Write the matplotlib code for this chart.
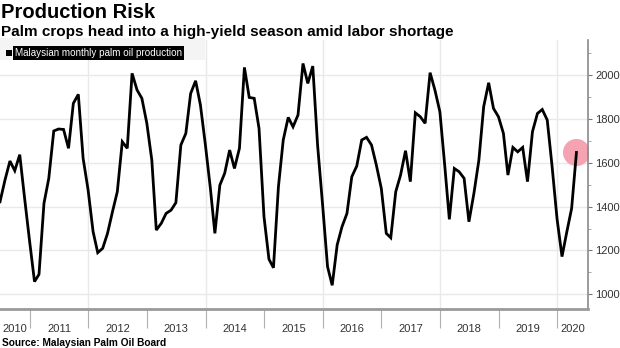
import numpy as np
import pandas as pd
import matplotlib
matplotlib.use("Agg")
import matplotlib.pyplot as plt
import matplotlib.dates as mdates
from matplotlib.patches import Rectangle
from matplotlib.ticker import MultipleLocator, FixedLocator, NullFormatter

plt.rcParams['font.family'] = ['Liberation Sans', 'DejaVu Sans']

# Malaysian monthly palm oil production ('000 tonnes), Jun 2010 - Apr 2020
prod_2010 = [1422, 1521, 1608, 1564, 1637, 1440, 1245]
prod_2011 = [1058, 1091, 1415, 1529, 1745, 1754, 1752, 1666, 1871, 1912, 1620, 1476]
prod_2012 = [1286, 1190, 1210, 1278, 1377, 1468, 1696, 1666, 2008, 1932, 1894, 1780]
prod_2013 = [1612, 1293, 1324, 1369, 1384, 1418, 1681, 1734, 1916, 1974, 1863, 1681]
prod_2014 = [1483, 1278, 1498, 1552, 1658, 1574, 1666, 2035, 1898, 1894, 1757, 1354]
prod_2015 = [1160, 1121, 1491, 1704, 1807, 1764, 1818, 2053, 1962, 2041, 1680, 1410]
prod_2016 = [1126, 1041, 1225, 1308, 1369, 1536, 1585, 1704, 1716, 1681, 1590, 1483]
prod_2017 = [1278, 1258, 1468, 1544, 1655, 1514, 1828, 1810, 1780, 2011, 1932, 1833]
prod_2018 = [1582, 1342, 1574, 1559, 1529, 1331, 1460, 1612, 1856, 1965, 1848, 1810]
prod_2019 = [1734, 1544, 1670, 1650, 1670, 1514, 1742, 1825, 1843, 1795, 1585, 1345]
prod_2020 = [1172, 1281, 1392, 1647]

production = (prod_2010 + prod_2011 + prod_2012 + prod_2013 + prod_2014 + prod_2015
              + prod_2016 + prod_2017 + prod_2018 + prod_2019 + prod_2020)
months = pd.period_range('2010-06', '2020-04', freq='M').to_timestamp(how='end').normalize()
years = list(range(2010, 2021))

title = "Production Risk"
subtitle = "Palm crops head into a high-yield season amid labor shortage"
legend_label = "Malaysian monthly palm oil production"
source = "Source: Malaysian Palm Oil Board"

fig = plt.figure(figsize=(6.2, 3.48), dpi=100)
W, H = 620.0, 348.0
ax = fig.add_axes([0, 1 - 309 / H, 588 / W, (309 - 40) / H])

ax.plot(months, production, color='black', lw=2.0, zorder=3, solid_joinstyle='miter')
ax.scatter([months[-1]], [production[-1]], s=380, color='#f5a3b3', zorder=2, linewidths=0)

x0 = months[0]
x1 = months[0] + pd.Timedelta(days=3664)
ax.set_xlim(x0, x1)
ax.set_ylim(933, 2160)

# grid
for v in range(1000, 2001, 200):
    ax.axhline(v, color='#e9e9e9', lw=1, zorder=0)
for y in range(2012, 2021, 2):
    ax.axvline(pd.Timestamp(f'{y}-01-01'), color='#e9e9e9', lw=1, zorder=0)

# spines
for s in ['top', 'left']:
    ax.spines[s].set_visible(False)
ax.spines['bottom'].set_color('#9a9a9a')
ax.spines['bottom'].set_linewidth(2)
ax.spines['right'].set_color('#8a8a8a')
ax.spines['right'].set_linewidth(1.2)

# y axis on the right
ax.yaxis.tick_right()
ax.yaxis.set_major_locator(MultipleLocator(200))
ax.yaxis.set_minor_locator(MultipleLocator(100))
ax.tick_params(axis='y', which='major', length=3, width=0.8, color='#777777',
               labelsize=8, labelcolor='#333333', pad=2)
ax.tick_params(axis='y', which='minor', length=2, width=0.6, color='#999999')
ax.set_yticks([1000, 1200, 1400, 1600, 1800, 2000])

# x axis: separators at year starts, labels at centre of visible year span
lo, hi = mdates.date2num(x0), mdates.date2num(x1)
bounds = [mdates.date2num(pd.Timestamp(f'{y}-01-01')) for y in range(2011, 2021)]
centers = []
for y in years:
    a = max(lo, mdates.date2num(pd.Timestamp(f'{y}-01-01')))
    b = min(hi, mdates.date2num(pd.Timestamp(f'{y + 1}-01-01')))
    centers.append((a + b) / 2)
ax.xaxis.set_major_locator(FixedLocator(bounds))
ax.xaxis.set_major_formatter(NullFormatter())
ax.xaxis.set_minor_locator(FixedLocator(centers))
ax.set_xticklabels([str(y) for y in years], minor=True)
ax.tick_params(axis='x', which='major', length=14, width=0.8, color='#b0b0b0')
ax.tick_params(axis='x', which='minor', length=0, labelsize=8, labelcolor='#333333', pad=11)

# titles
fig.text(1 / W, 1 - 13 / H, title, fontsize=14.5, fontweight='bold', va='center', ha='left')
fig.text(1 / W, 1 - 32 / H, subtitle, fontsize=11, fontweight='bold', va='center', ha='left')
fig.text(2 / W, 1 - 342.5 / H, source, fontsize=7.3, fontweight='bold', va='center', ha='left')

# legend block
fig.patches.append(Rectangle((0, 1 - 60 / H), 205 / W, 22 / H, transform=fig.transFigure,
                             facecolor='#f4f4f4', edgecolor='none', zorder=1))
fig.patches.append(Rectangle((6 / W, 1 - 56 / H), 6 / W, 6 / H, transform=fig.transFigure,
                             facecolor='black', edgecolor='none', zorder=2))
fig.text(15 / W, 1 - 53 / H, legend_label, fontsize=7.1, color='white', va='center', ha='left',
         bbox=dict(facecolor='black', edgecolor='none', pad=1.2), zorder=3)

fig.savefig('out.png', dpi=100)
